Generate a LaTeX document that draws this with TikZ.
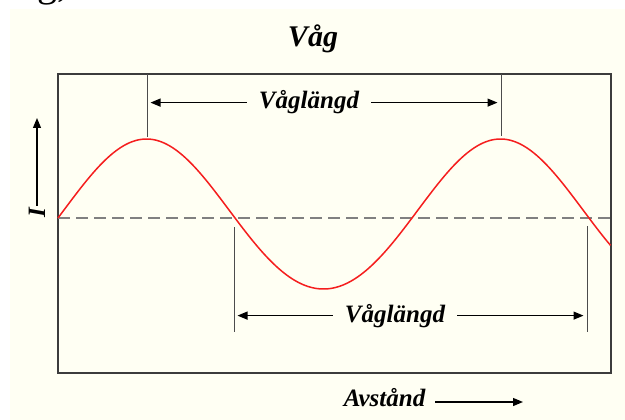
\documentclass[tikz,border=0pt]{standalone}
\usepackage{fontspec}
\setmainfont{Liberation Serif}
\usetikzlibrary{arrows.meta}
\definecolor{cream}{RGB}{255,255,243}
\definecolor{framegray}{RGB}{60,60,60}
\definecolor{axisgray}{RGB}{128,128,128}
\definecolor{wavered}{RGB}{245,30,30}
\tikzset{
  lbl/.style={font=\bfseries\itshape\fontsize{25}{30}\selectfont, inner ysep=0pt, inner xsep=12pt},
  tick/.style={draw=black!70, line width=1pt},
  dimarrow/.style={draw=black, line width=1.2pt, -{Triangle[length=10pt,width=8pt]}, shorten >=3.5pt},
  plainarrow/.style={draw=black, line width=1.2pt, -{Triangle[length=10pt,width=8pt]}},
}
\begin{document}
\begin{tikzpicture}[x=1pt,y=-1pt]
\useasboundingbox (0,0) rectangle (625,420);
\fill[white] (0,0) rectangle (625,420);
\fill[cream] (10,9.5) rectangle (625,420);
% cropped fragment of text above
\begin{scope}
\clip (0,0) rectangle (625,9.5);
\node[anchor=base west, inner sep=0pt, font=\fontsize{40}{40}\selectfont] (frag) at (37,-3.7) {g,};
\end{scope}
% title
\node[anchor=base, inner sep=0pt, font=\bfseries\itshape\fontsize{30}{36}\selectfont] (title) at (313,47) {Våg};
% frame
\draw[framegray, line width=1.6pt] (58,74) rectangle (611,373);
% axis
\draw[axisgray, line width=1.2pt, dash pattern=on 12pt off 6pt] (58,218) -- (611,218);
% wave
\draw[wavered, line width=1.5pt, line join=round] plot[domain=0:561.9, samples=240]
  ({58+\x*0.983333}, {218 - 75*sin(\x) - 4*sin(\x)*sin(\x)});
% ticks
\coordinate (t1a) at (147,74);  \coordinate (t1b) at (147,137);
\coordinate (t2a) at (501,74);  \coordinate (t2b) at (501,136);
\coordinate (t3a) at (234,227); \coordinate (t3b) at (234,332);
\coordinate (t4a) at (587,226); \coordinate (t4b) at (587,332);
\draw[tick] (t1a) -- (t1b);
\draw[tick] (t2a) -- (t2b);
\draw[tick] (t3a) -- (t3b);
\draw[tick] (t4a) -- (t4b);
% upper wavelength
\node[lbl, anchor=base] (wl1) at (309,109) {Våglängd};
\draw[dimarrow] (wl1.west) -- (wl1.west -| t1a);
\draw[dimarrow] (wl1.east) -- (wl1.east -| t2a);
% lower wavelength
\node[lbl, anchor=base] (wl2) at (395,322) {Våglängd};
\draw[dimarrow] (wl2.west) -- (wl2.west -| t3a);
\draw[dimarrow] (wl2.east) -- (wl2.east -| t4a);
% I axis label
\node[lbl, inner xsep=0pt, rotate=90, anchor=center] (ilab) at (37,213) {I};
\coordinate (itop) at (37,118);
\draw[plainarrow] (ilab.east) ++(0,-2) -- (itop);
% distance label
\node[lbl, inner xsep=0pt, anchor=base] (av) at (384.5,406) {Avstånd};
\coordinate (avstart) at (435,402);
\coordinate (avend) at (523,402);
\draw[plainarrow] (avstart) -- (avend);
\end{tikzpicture}
\end{document}
